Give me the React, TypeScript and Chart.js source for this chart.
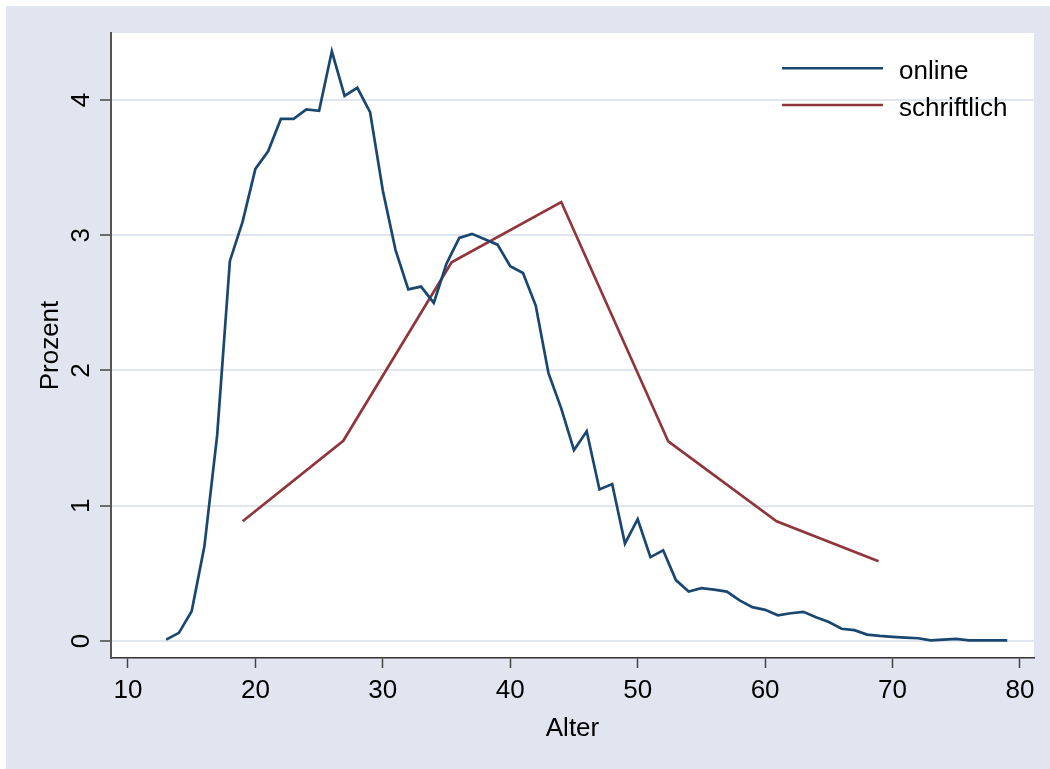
import React, { useEffect, useRef } from "react";
import { Chart, registerables } from "chart.js";

Chart.register(...registerables);

// ---- data ----
const onlineAges = [
  13, 14, 15, 16, 17, 18, 19, 20, 21, 22, 23, 24, 25, 26, 27, 28, 29, 30, 31, 32, 33, 34, 35, 36,
  37, 38, 39, 40, 41, 42, 43, 44, 45, 46, 47, 48, 49, 50, 51, 52, 53, 54, 55, 56, 57, 58, 59, 60,
  61, 62, 63, 64, 65, 66, 67, 68, 69, 70, 71, 72, 73, 74, 75, 76, 77, 78, 79,
];
const onlineValues = [
  0.01, 0.06, 0.22, 0.7, 1.52, 2.81, 3.1, 3.49, 3.62, 3.86, 3.86, 3.93, 3.92, 4.36, 4.03, 4.09,
  3.91, 3.33, 2.89, 2.6, 2.62, 2.5, 2.79, 2.98, 3.01, 2.97, 2.93, 2.77, 2.72, 2.48, 1.98, 1.72,
  1.41, 1.55, 1.12, 1.16, 0.72, 0.9, 0.62, 0.67, 0.45, 0.365, 0.39, 0.38, 0.365, 0.3, 0.25, 0.23,
  0.19, 0.205, 0.215, 0.175, 0.14, 0.09, 0.08, 0.047, 0.037, 0.03, 0.025, 0.02, 0.005, 0.01,
  0.015, 0.005, 0.005, 0.005, 0.005,
];
const writtenAges = [19, 26.9, 35.4, 44, 52.4, 60.9, 68.9];
const writtenValues = [0.885, 1.48, 2.8, 3.245, 1.475, 0.885, 0.59];
const seriesLabels = ["online", "schriftlich"];
const xTitle = "Alter";
const yTitle = "Prozent";

const FONT = "'Liberation Sans', Arial, sans-serif";
const FS = 26;

const plotBg = {
  id: "plotBg",
  beforeDraw(chart: any) {
    const { ctx, chartArea } = chart;
    ctx.save();
    ctx.fillStyle = "#ffffff";
    ctx.fillRect(chartArea.left, chartArea.top, chartArea.right - chartArea.left, chartArea.bottom - chartArea.top);
    ctx.restore();
  },
};

const insideLegend = {
  id: "insideLegend",
  afterDraw(chart: any) {
    const { ctx } = chart;
    ctx.save();
    chart.data.datasets.forEach((ds: any, i: number) => {
      const y = 62.3 + i * 36.7;
      ctx.strokeStyle = ds.borderColor;
      ctx.lineWidth = 2.5;
      ctx.beginPath();
      ctx.moveTo(776, y);
      ctx.lineTo(877, y);
      ctx.stroke();
      ctx.fillStyle = "#000";
      ctx.font = `${FS}px ${FONT}`;
      ctx.textBaseline = "alphabetic";
      ctx.textAlign = "left";
      ctx.fillText(ds.label, 893, y + 11);
    });
    ctx.restore();
  },
};

export default function App() {
  const ref = useRef<HTMLCanvasElement>(null);
  useEffect(() => {
    if (!ref.current) return;
    const chart = new Chart(ref.current, {
      type: "line",
      data: {
        datasets: [
          {
            label: seriesLabels[0],
            data: onlineAges.map((a, i) => ({ x: a, y: onlineValues[i] })),
            borderColor: "#1a476f",
            borderWidth: 2.7,
            pointRadius: 0,
            tension: 0,
            fill: false,
          },
          {
            label: seriesLabels[1],
            data: writtenAges.map((a, i) => ({ x: a, y: writtenValues[i] })),
            borderColor: "#90353b",
            borderWidth: 2.7,
            pointRadius: 0,
            tension: 0,
            fill: false,
          },
        ],
      },
      options: {
        responsive: false,
        devicePixelRatio: 1,
        animation: false,
        layout: { padding: { left: 0, top: 27, right: 16, bottom: 0 } },
        plugins: { legend: { display: false }, tooltip: { enabled: false } },
        scales: {
          x: {
            type: "linear",
            min: 8.67,
            max: 81.1,
            afterFit: (s: any) => {
              s.height = 111;
            },
            ticks: {
              stepSize: 10,
              includeBounds: false,
              maxRotation: 0,
              font: { family: FONT, size: FS },
              color: "#000",
              padding: 7,
            },
            grid: {
              drawOnChartArea: false,
              drawTicks: true,
              tickLength: 10,
              tickColor: "#444",
              tickWidth: 1.5,
            },
            border: { display: true, color: "#333", width: 1.5 },
            title: {
              display: true,
              text: xTitle,
              font: { family: FONT, size: FS },
              color: "#000",
              padding: { top: 0, bottom: 25 },
            },
          },
          y: {
            type: "linear",
            min: -0.126,
            max: 4.495,
            afterFit: (s: any) => {
              s.width = 105;
            },
            ticks: {
              stepSize: 1,
              includeBounds: false,
              minRotation: 90,
              maxRotation: 90,
              crossAlign: "center",
              padding: 11,
              font: { family: FONT, size: FS },
              color: "#000",
            },
            grid: {
              color: "#e1e5ef",
              lineWidth: 2,
              tickLength: 11,
              tickColor: "#444",
              tickWidth: 1.5,
            },
            border: { display: true, color: "#555", width: 2 },
            title: {
              display: true,
              text: yTitle,
              font: { family: FONT, size: FS },
              color: "#000",
              padding: { top: 29.6, bottom: 0 },
            },
          },
        },
      },
      plugins: [plotBg, insideLegend],
    } as any);
    return () => chart.destroy();
  }, []);

  return (
    <div
      style={{
        position: "absolute",
        left: 6,
        top: 6,
        width: 1044,
        height: 763,
        background: "#e1e5ef",
      }}
    >
      <canvas ref={ref} width={1044} height={763} style={{ display: "block", width: 1044, height: 763 }} />
    </div>
  );
}
